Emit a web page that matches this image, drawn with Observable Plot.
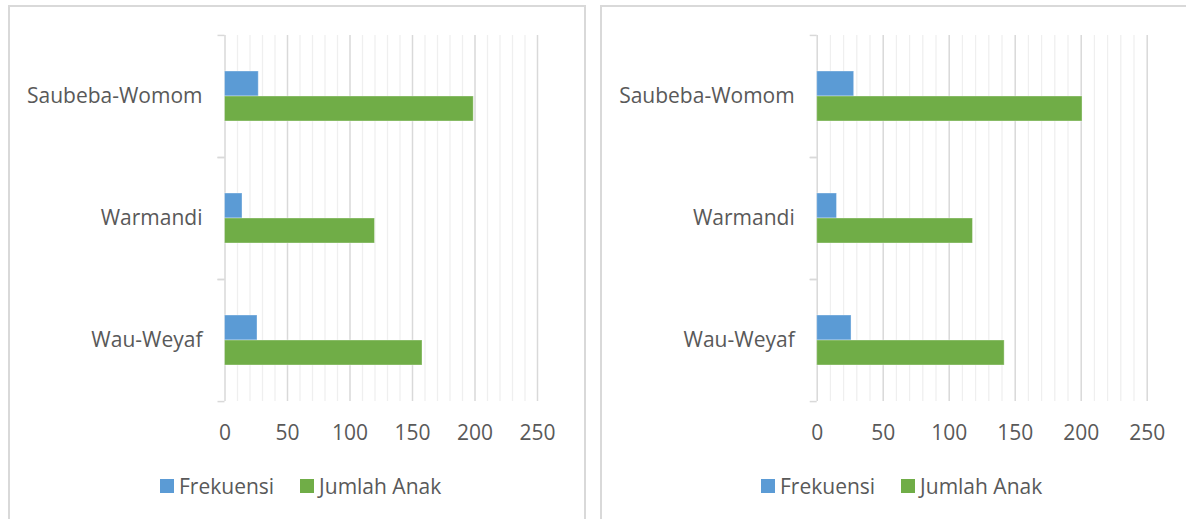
<!DOCTYPE html>
<html><head><meta charset="utf-8">
<script src="https://cdn.jsdelivr.net/npm/d3@7"></script>
<script src="https://cdn.jsdelivr.net/npm/@observablehq/plot@0.6"></script>
<style>
body{margin:0;background:#fff;width:1186px;height:519px;overflow:hidden;position:relative;font-family:"Open Sans";}
.panel{position:absolute;border:2px solid #d9d9d9;box-sizing:border-box;}
.chart{position:absolute;top:0;}
.legend{position:absolute;top:474px;display:flex;align-items:center;font-size:21px;color:#595959;white-space:nowrap;line-height:24px;font-family:"Open Sans";}
.item{display:flex;align-items:center;margin-right:26px}
.sw{width:14px;height:14px;margin-right:5px}
</style></head><body>
<div class="panel" style="left:8px;top:5px;width:578px;height:540px"></div>
<div class="panel" style="left:600px;top:5px;width:610px;height:540px"></div>
<div id="c1" class="chart" style="left:0px"></div>
<div id="c2" class="chart" style="left:592px"></div>
<div id="l1" class="legend" style="left:160px"></div>
<div id="l2" class="legend" style="left:761px"></div>
<script>
const categories = ["Saubeba-Womom", "Warmandi", "Wau-Weyaf"];
const seriesNames = ["Frekuensi", "Jumlah Anak"];
const seriesColors = ["#5B9BD5", "#70AD47"];
const leftFrekuensi = [27, 14, 26];
const leftJumlahAnak = [199, 120, 158];
const rightFrekuensi = [28, 15, 26];
const rightJumlahAnak = [201, 118, 142];
const xTicks = [0, 50, 100, 150, 200, 250];
const minorTicks = [10, 20, 30, 40, 60, 70, 80, 90, 110, 120, 130, 140, 160, 170, 180, 190, 210, 220, 230, 240];

function chart(fre, jml, width, ml, mr) {
  const data = [];
  categories.forEach((c, i) => {
    data.push({cat: c, series: seriesNames[0], value: fre[i]});
    data.push({cat: c, series: seriesNames[1], value: jml[i]});
  });
  const H = 470, mt = 35, mb = 68.5;
  const half = (H - mt - mb) / categories.length / 2;
  return Plot.plot({
    width, height: H, marginLeft: ml, marginRight: mr, marginTop: mt, marginBottom: mb,
    style: {fontFamily: "Open Sans", fontSize: "21px", color: "#595959", background: "transparent", overflow: "visible"},
    x: {domain: [0, 250], label: null},
    y: {domain: seriesNames, paddingInner: 0, paddingOuter: 1.37, axis: null, label: null},
    fy: {domain: categories, padding: 0, label: null, axis: null},
    color: {domain: seriesNames, range: seriesColors},
    marks: [
      Plot.gridX(minorTicks, {stroke: "#efefef", strokeOpacity: 1, strokeWidth: 1.25}),
      Plot.gridX(xTicks.slice(1), {stroke: "#d9d9d9", strokeOpacity: 1, strokeWidth: 1.5}),
      Plot.ruleX([0], {stroke: "#d9d9d9", strokeWidth: 1.5}),
      Plot.axisFy({anchor: "left", text: null, tickSize: 7, dy: -half, stroke: "#d9d9d9", strokeWidth: 1.5, strokeOpacity: 1}),
      Plot.axisFy({anchor: "left", text: null, tickSize: 7, dy: half, stroke: "#d9d9d9", strokeWidth: 1.5, strokeOpacity: 1}),
      Plot.axisFy({anchor: "left", tickSize: 0, tickPadding: 22.5, fill: "#595959", label: null}),
      Plot.axisX({ticks: xTicks, tickSize: 0, tickPadding: 24, fill: "#595959", label: null}),
      Plot.barX(data, {fy: "cat", y: "series", x: "value", fill: "series", stroke: "white", strokeOpacity: 0.35, strokeWidth: 1})
    ]
  });
}

function legend(el) {
  seriesNames.forEach((s, i) => {
    const it = document.createElement("div");
    it.className = "item";
    const sw = document.createElement("div");
    sw.className = "sw";
    sw.style.background = seriesColors[i];
    const t = document.createElement("span");
    t.textContent = s;
    it.appendChild(sw); it.appendChild(t);
    el.appendChild(it);
  });
}

document.getElementById("c1").appendChild(chart(leftFrekuensi, leftJumlahAnak, 590, 224.5, 53));
document.getElementById("c2").appendChild(chart(rightFrekuensi, rightJumlahAnak, 594, 224.7, 39.3));
legend(document.getElementById("l1"));
legend(document.getElementById("l2"));
</script>
</body></html>
